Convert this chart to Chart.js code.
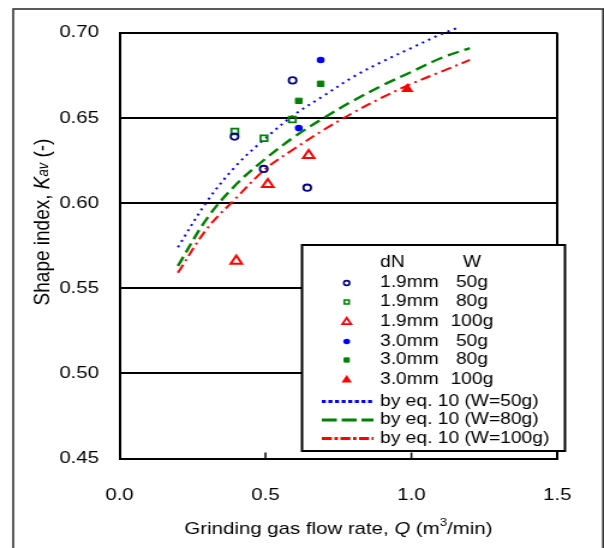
<!DOCTYPE html>
<html><head><meta charset="utf-8">
<script src="https://cdn.jsdelivr.net/npm/chart.js@4/dist/chart.umd.min.js"></script>
<style>
html,body{margin:0;padding:0;background:#fff;overflow:hidden}
#wrap{position:absolute;left:0;top:0;width:604px;height:548px;overflow:hidden;background:#fff}
#c{position:absolute;left:0;top:0;transform-origin:0 0;transform:scaleX(1.2008)}
</style></head><body>
<div id="wrap"><canvas id="c" width="503" height="548"></canvas></div>
<script>
// ---- tick labels ----
const xTicks = [0.0, 0.5, 1.0, 1.5];
const xTickLabels = ['0.0', '0.5', '1.0', '1.5'];
const yTicks = [0.45, 0.50, 0.55, 0.60, 0.65, 0.70];
const yTickLabels = ['0.45', '0.50', '0.55', '0.60', '0.65', '0.70'];

// ---- measured points (Q, Kav) ----
const q19_50 = [0.394, 0.494, 0.593, 0.643];
const k19_50 = [0.639, 0.620, 0.672, 0.609];
const q19_80 = [0.395, 0.495, 0.592];
const k19_80 = [0.642, 0.638, 0.649];
const q19_100 = [0.400, 0.508, 0.648];
const k19_100 = [0.566, 0.611, 0.628];
const q30_50 = [0.614, 0.689];
const k30_50 = [0.644, 0.684];
const q30_80 = [0.614, 0.689];
const k30_80 = [0.660, 0.670];
const q30_100 = [0.986];
const k30_100 = [0.667];

// ---- eq. 10 curves ----
const qEq50 = [0.2, 0.3, 0.4, 0.5, 0.6, 0.7, 0.8, 0.9, 1.0, 1.1, 1.16];
const kEq50 = [0.574, 0.601, 0.622, 0.638, 0.652, 0.663, 0.674, 0.683, 0.691, 0.699, 0.703];
const qEq80 = [0.2, 0.3, 0.4, 0.5, 0.6, 0.7, 0.8, 0.9, 1.0, 1.1, 1.2];
const kEq80 = [0.563, 0.591, 0.611, 0.626, 0.639, 0.650, 0.660, 0.669, 0.677, 0.685, 0.691];
const qEq100 = [0.2, 0.3, 0.4, 0.5, 0.6, 0.7, 0.8, 0.9, 1.0, 1.1, 1.2];
const kEq100 = [0.559, 0.585, 0.603, 0.620, 0.632, 0.643, 0.653, 0.662, 0.670, 0.677, 0.684];

// ---- legend texts ----
const legendHead = ['dN', 'W'];
const legendDN = ['1.9mm', '1.9mm', '1.9mm', '3.0mm', '3.0mm', '3.0mm'];
const legendW = ['50g', '80g', '100g', '50g', '80g', '100g'];
const legendEq = ['by eq. 10 (W=50g)', 'by eq. 10 (W=80g)', 'by eq. 10 (W=100g)'];

const FAM = '"Liberation Sans", Arial, Helvetica, sans-serif';
const pts = (xs, ys) => xs.map((x, i) => ({x: x, y: ys[i]}));
const NONE = 'rgba(0,0,0,0)';

const datasets = [
  {label: '1.9mm 50g', data: pts(q19_50, k19_50), pointStyle: 'circle', pointRadius: 3.2, pointBorderWidth: 1.8, borderColor: '#000080', backgroundColor: NONE, showLine: false, lg: {r: 2.4, bw: 1.6}},
  {label: '1.9mm 80g', data: pts(q19_80, k19_80), pointStyle: 'rect', pointRadius: 4.0, pointBorderWidth: 1.8, borderColor: '#008000', backgroundColor: NONE, showLine: false, lg: {r: 2.8, bw: 1.6}},
  {label: '1.9mm 100g', data: pts(q19_100, k19_100), pointStyle: 'triangle', pointRadius: 5.4, pointBorderWidth: 2, borderColor: '#FF0000', backgroundColor: NONE, showLine: false, lg: {r: 4.2, bw: 1.8}},
  {label: '3.0mm 50g', data: pts(q30_50, k30_50), pointStyle: 'circle', pointRadius: 3.3, pointBorderWidth: 0, borderColor: '#0000FF', backgroundColor: '#0000FF', showLine: false, lg: {r: 2.8, bw: 0}},
  {label: '3.0mm 80g', data: pts(q30_80, k30_80), pointStyle: 'rect', pointRadius: 3.8, pointBorderWidth: 1, borderColor: '#008000', backgroundColor: '#008000', showLine: false, lg: {r: 3.0, bw: 1}},
  {label: '3.0mm 100g', data: pts(q30_100, k30_100), pointStyle: 'triangle', pointRadius: 6.0, pointBorderWidth: 0, borderColor: '#FF0000', backgroundColor: '#FF0000', showLine: false, lg: {r: 5.0, bw: 0}},
  {label: legendEq[0], data: pts(qEq50, kEq50), showLine: true, pointRadius: 0, borderColor: '#0000FF', borderWidth: 2, borderDash: [2, 4], tension: 0.35, clip: false, fill: false, lgDash: [3.3, 2.2]},
  {label: legendEq[1], data: pts(qEq80, kEq80), showLine: true, pointRadius: 0, borderColor: '#008000', borderWidth: 2.4, borderDash: [10, 5], tension: 0.35, clip: false, fill: false, lgDash: [12.5, 4]},
  {label: legendEq[2], data: pts(qEq100, kEq100), showLine: true, pointRadius: 0, borderColor: '#FF0000', borderWidth: 2, borderDash: [9, 4, 2, 4], tension: 0.35, clip: false, fill: false, lgDash: [8.3, 2.2, 2.8, 2.2]}
];

function richText(ctx, parts, cx, baseY) {
  let w = 0;
  parts.forEach(p => { ctx.font = p[1]; w += ctx.measureText(p[0]).width; });
  let x = cx - w / 2;
  parts.forEach(p => { ctx.font = p[1]; ctx.fillText(p[0], x, baseY + (p[2] || 0)); x += ctx.measureText(p[0]).width; });
}

const decor = {
  id: 'decor',
  afterDatasetsDraw(chart) {
    const ctx = chart.ctx;
    const xs = chart.scales.x;
    const ca = chart.chartArea;
    ctx.save();
    // inward x ticks
    ctx.strokeStyle = '#000'; ctx.lineWidth = 1.5;
    xTicks.slice(1, -1).forEach(v => {
      const px = xs.getPixelForValue(v);
      ctx.beginPath(); ctx.moveTo(px, ca.bottom); ctx.lineTo(px, ca.bottom - 6); ctx.stroke();
    });
    // legend box
    const L = 251.5, R = 470.5, T = 245, B = 451;
    ctx.fillStyle = '#fff'; ctx.fillRect(L, T, R - L, B - T);
    ctx.strokeStyle = '#000'; ctx.lineWidth = 2; ctx.strokeRect(L, T, R - L, B - T);
    ctx.font = '16px ' + FAM; ctx.fillStyle = '#000'; ctx.textBaseline = 'middle';
    ctx.textAlign = 'left'; ctx.fillText(legendHead[0], 316.5, 263);
    ctx.textAlign = 'center'; ctx.fillText(legendHead[1], 393, 263);
    const rowY = [283, 302, 322, 341.5, 360, 380];
    for (let i = 0; i < 6; i++) {
      const ds = datasets[i];
      ctx.save();
      ctx.fillStyle = ds.backgroundColor; ctx.strokeStyle = ds.borderColor; ctx.lineWidth = ds.lg.bw;
      Chart.helpers.drawPoint(ctx, {pointStyle: ds.pointStyle, radius: ds.lg.r, rotation: 0, borderWidth: ds.lg.bw}, 288.7, rowY[i]);
      ctx.restore();
      ctx.fillStyle = '#000'; ctx.font = '16px ' + FAM;
      ctx.textAlign = 'left'; ctx.fillText(legendDN[i], 316.5, rowY[i]);
      ctx.textAlign = 'center'; ctx.fillText(legendW[i], 393, rowY[i]);
    }
    const eqY = [401.5, 420, 438.5];
    for (let j = 0; j < 3; j++) {
      const ds = datasets[6 + j];
      ctx.save();
      ctx.strokeStyle = ds.borderColor; ctx.lineWidth = 3; ctx.setLineDash(ds.lgDash);
      ctx.beginPath(); ctx.moveTo(268, eqY[j]); ctx.lineTo(311, eqY[j]); ctx.stroke();
      ctx.restore();
      ctx.fillStyle = '#000'; ctx.font = '16px ' + FAM; ctx.textAlign = 'left';
      ctx.fillText(legendEq[j], 316.5, eqY[j]);
    }
    ctx.restore();
  },
  afterDraw(chart) {
    const ctx = chart.ctx;
    const ca = chart.chartArea;
    ctx.save();
    // outer frame
    ctx.strokeStyle = '#333'; ctx.lineWidth = 1.6;
    ctx.strokeRect(11, 9, 491.2, 600);
    // axis titles
    ctx.fillStyle = '#000'; ctx.textAlign = 'left'; ctx.textBaseline = 'alphabetic';
    const n = '17px ' + FAM, it = 'italic 17px ' + FAM, sm = '11px ' + FAM;
    richText(ctx, [['Grinding gas flow rate, ', n], ['Q', it], [' (m', n], ['3', sm, -8], ['/min)', n]], (ca.left + ca.right) / 2, 534);
    const yn = '19px ' + FAM, yit = 'italic 19px ' + FAM, ysm = 'italic 13px ' + FAM;
    ctx.translate(34.5, 222);
    ctx.rotate(-Math.PI / 2);
    richText(ctx, [['Shape index, ', yn], ['K', yit], ['av', ysm, -1], [' (-)', yn]], 0, 6.5);
    ctx.restore();
  }
};

new Chart(document.getElementById('c'), {
  type: 'scatter',
  data: {datasets: datasets},
  options: {
    responsive: false, animation: false, events: [], devicePixelRatio: 1,
    layout: {padding: {top: 32.7, right: 27.7, left: 0, bottom: 0}},
    plugins: {legend: {display: false}, tooltip: {enabled: false}},
    scales: {
      x: {
        type: 'linear', min: 0, max: 1.5,
        afterFit(s) { s.height = 89.5; },
        afterBuildTicks(s) { s.ticks = xTicks.map(v => ({value: v})); },
        ticks: {callback: (v, i) => xTickLabels[i], padding: 27, color: '#000', font: {size: 17, family: FAM}, maxRotation: 0, autoSkip: false},
        grid: {color: c => (c.tick && (c.tick.value === xTicks[0] || c.tick.value === xTicks[xTicks.length - 1])) ? '#000' : NONE, lineWidth: 2, drawTicks: false},
        border: {display: true, color: '#000', width: 2}
      },
      y: {
        type: 'linear', min: 0.45, max: 0.70,
        afterFit(s) { s.width = 99.5; },
        afterBuildTicks(s) { s.ticks = yTicks.map(v => ({value: v})); },
        ticks: {callback: (v, i) => yTickLabels[i], padding: 17, color: '#000', font: {size: 17, family: FAM}, autoSkip: false},
        grid: {color: '#000', lineWidth: 2, drawTicks: false},
        border: {display: true, color: '#000', width: 2}
      }
    }
  },
  plugins: [decor]
});
</script>
</body></html>
